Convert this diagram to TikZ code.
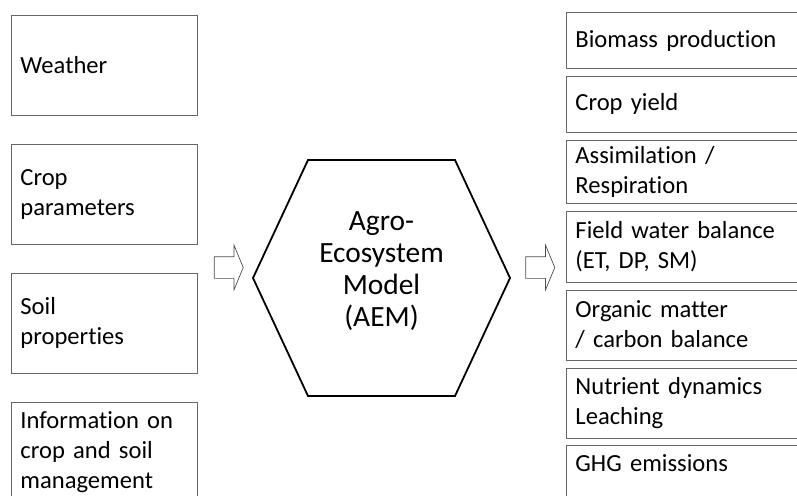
\documentclass[tikz,border=0pt]{standalone}
\usepackage{fontspec}
\setmainfont{Carlito}[Ligatures={NoCommon}]
\usetikzlibrary{shapes.arrows, positioning}

\begin{document}
\begin{tikzpicture}[
      x=1pt, y=-1pt,
      every node/.style={font=\fontsize{24.6}{30}\selectfont},
      inbox/.style={draw=black!60, line width=0.9pt, align=left,
                    text width=168pt, inner xsep=9pt, inner ysep=0pt,
                    minimum height=100pt},
      outbox/.style={draw=black!60, line width=0.9pt, align=left,
                     text width=232pt, inner xsep=9pt, inner ysep=0pt},
      model/.style={align=center, font=\fontsize{29.4}{32}\selectfont},
      hexline/.style={line width=1.8pt, line join=miter},
      flow/.style={single arrow, draw=black!70, line width=0.7pt,
                   minimum height=29pt, inner xsep=0pt, inner ysep=10.5pt,
                   text height=0pt, text depth=0pt, text width=0pt,
                   single arrow head extend=11.5pt,
                   single arrow tip angle=135}
    ]
    \useasboundingbox (0,0) rectangle (797,495);

    % inputs
    \node[inbox, anchor=north west] (weather) at (11,15) {Weather};
    \node[inbox, below=28pt of weather] (cropp) {Crop\\parameters};
    \node[inbox, below=28pt of cropp]   (soil)  {Soil\\properties};
    \node[inbox, below=28pt of soil]    (mgmt)  {Information on\\crop and soil\\management};

    % model
    \coordinate (hexc) at (381.5,278);
    \draw[hexline] ([xshift=-128.5pt]hexc) -- ++(55,-118) -- ++(147,0)
      -- ++(55,118) -- ++(-55,118) -- ++(-147,0) -- cycle;
    \node[model] (aem) at (381.5,271) {Agro-\\Ecosystem\\Model\\(AEM)};

    \node[flow] (inflow)  at (226.5,267.5) {};
    \node[flow] (outflow) at (538,267.5) {};

    % outputs
    \node[outbox, minimum height=56pt, anchor=north west] (biomass) at (566,12) {Biomass production};
    \node[outbox, minimum height=56pt, below=7pt of biomass] (yield)  {Crop yield};
    \node[outbox, minimum height=63pt, below=7pt of yield]   (assim)  {Assimilation /\\Respiration};
    \node[outbox, minimum height=71pt, below=7pt of assim]   (water)  {Field water balance\\(ET, DP, SM)};
    \node[outbox, minimum height=70pt, below=7pt of water]   (carbon) {Organic matter\\/ carbon balance};
    \node[outbox, minimum height=70pt, below=7pt of carbon]  (nutr)   {Nutrient dynamics\\Leaching};
    \node[outbox, minimum height=70pt, text height=16pt, text depth=34pt,
          below=7pt of nutr] (ghg) {GHG emissions};
  \end{tikzpicture}
\end{document}
